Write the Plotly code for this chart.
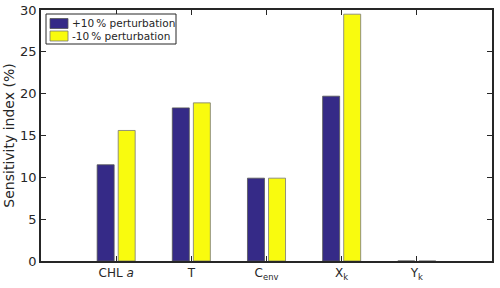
import plotly.graph_objects as go

categories = ["CHL <i>a</i>", "T", "C<sub>env</sub>", "X<sub>k</sub>", "Y<sub>k</sub>"]
positions = [1, 2, 3, 4, 5]
plus10 = [11.5, 18.3, 9.9, 19.7, 0.0]
minus10 = [15.6, 18.9, 9.9, 29.5, 0.0]
yticks = [0, 5, 10, 15, 20, 25, 30]
legend_labels = ["+10\u2009% perturbation", "-10\u2009% perturbation"]
colors = ["#352a87", "#f9fb0e"]
edges = ["#555555", "#777777"]

font = "DejaVu Sans, Liberation Sans, sans-serif"
ink = "#262626"

# plot area in pixels: x 41..492, y 10..261
L, R, T, B = 41, 8, 10, 27
W, H = 500, 288
pw, ph = W - L - R, H - T - B


def px(x):
    return (x - L) / pw


def py(y):
    return (H - B - y) / ph


fig = go.Figure()
for name, vals, col, edge, off in zip(legend_labels, [plus10, minus10], colors, edges, [-0.253, 0.027]):
    fig.add_trace(go.Bar(
        x=positions, y=vals, name=name,
        width=0.226, offset=off,
        marker=dict(color=col, line=dict(color=edge, width=0.8)),
        showlegend=False,
    ))

# legend box drawn in MATLAB style
shapes = [dict(type="rect", xref="paper", yref="paper",
               x0=px(46), x1=px(176), y0=py(44), y1=py(14),
               line=dict(color=ink, width=1), fillcolor="white", layer="above")]
annotations = []
for i, (lab, col, edge) in enumerate(zip(legend_labels, colors, edges)):
    top = 18.5 + i * 12.5
    shapes.append(dict(type="rect", xref="paper", yref="paper",
                       x0=px(50), x1=px(68), y0=py(top + 10), y1=py(top),
                       line=dict(color=edge, width=0.8), fillcolor=col, layer="above"))
    annotations.append(dict(xref="paper", yref="paper", x=px(69.5), y=py(top + 5),
                            xanchor="left", yanchor="middle", showarrow=False,
                            text=lab, font=dict(size=10.5, color=ink)))

fig.update_layout(
    width=W, height=H,
    margin=dict(l=L, r=R, t=T, b=B),
    paper_bgcolor="white", plot_bgcolor="white",
    font=dict(family=font, size=12, color=ink),
    barmode="overlay",
    showlegend=False,
    shapes=shapes,
    annotations=annotations,
    xaxis=dict(
        range=[0, 6], tickmode="array", tickvals=positions, ticktext=categories,
        ticks="inside", ticklen=5, tickcolor=ink,
        showline=True, linecolor=ink, linewidth=1.5, mirror="ticks",
        showgrid=False, zeroline=False, automargin=False,
        tickfont=dict(size=12),
    ),
    yaxis=dict(
        range=[0, 30], tickmode="array", tickvals=yticks,
        ticks="inside", ticklen=5, tickcolor=ink,
        showline=True, linecolor=ink, linewidth=1.5, mirror="ticks",
        showgrid=False, zeroline=False, automargin=False,
        title=dict(text="Sensitivity index (%)", font=dict(size=14), standoff=2),
        tickfont=dict(size=13),
    ),
)

fig.write_html(
    "out.html",
    config={"displayModeBar": False},
    post_script="document.body.style.margin='0px';document.body.style.overflow='hidden';",
)
